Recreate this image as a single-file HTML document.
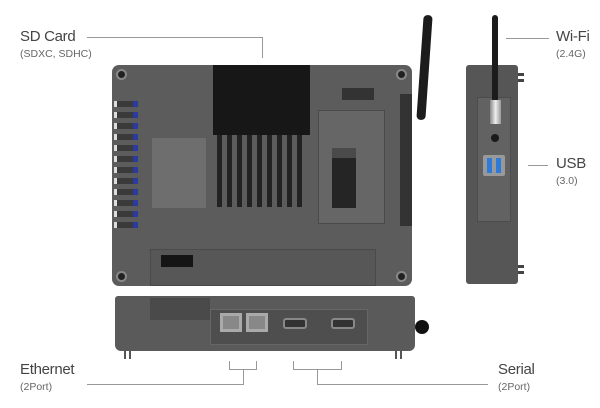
<!DOCTYPE html>
<html><head><style>
body{margin:0;width:600px;height:408px;background:#fff;position:relative;overflow:hidden;font-family:"Liberation Sans",sans-serif}
div{position:absolute;box-sizing:border-box}
.t{color:#444;font-size:15px;letter-spacing:-0.3px}
.s{color:#666;font-size:10.5px}
.ln{background:#999}
.scr{width:11px;height:11px;border-radius:50%;background:#222;border:2px solid #888}
.vent{height:6px;width:22px;background:#3a3a3a;border-left:3px solid #ddd}
.vent:after{content:"";position:absolute;right:-2px;top:0;width:5px;height:6px;background:#2a3aa0}
.fin{width:5px;height:72px;background:#222;top:0}
</style></head><body>
<!-- labels -->
<div class="t" style="left:20px;top:28px">SD Card</div>
<div class="s" style="left:20px;top:48px">(SDXC, SDHC)</div>
<div class="ln" style="left:87px;top:37px;width:176px;height:1px"></div>
<div class="ln" style="left:262px;top:37px;width:1px;height:21px"></div>

<div class="t" style="left:556px;top:28px">Wi-Fi</div>
<div class="s" style="left:556px;top:48px">(2.4G)</div>
<div class="ln" style="left:506px;top:38px;width:43px;height:1px"></div>
<div class="t" style="left:556px;top:155px">USB</div>
<div class="s" style="left:556px;top:175px">(3.0)</div>
<div class="ln" style="left:528px;top:165px;width:20px;height:1px"></div>

<div class="t" style="left:20px;top:361px">Ethernet</div>
<div class="s" style="left:20px;top:381px">(2Port)</div>
<div class="t" style="left:498px;top:361px">Serial</div>
<div class="s" style="left:498px;top:381px">(2Port)</div>
<div class="ln" style="left:87px;top:384px;width:157px;height:1px"></div>
<div class="ln" style="left:243px;top:369px;width:1px;height:16px"></div>
<div style="left:229px;top:361px;width:28px;height:9px;border:1px solid #999;border-top:none"></div>
<div class="ln" style="left:317px;top:369px;width:1px;height:16px"></div>
<div class="ln" style="left:317px;top:384px;width:171px;height:1px"></div>
<div style="left:293px;top:361px;width:49px;height:9px;border:1px solid #999;border-top:none"></div>

<!-- main back panel -->
<div style="left:420px;top:15px;width:9px;height:105px;background:#1c1c1c;border-radius:4px;transform:rotate(4deg)"></div>
<div style="left:112px;top:65px;width:300px;height:221px;background:#5c5c5c;border-radius:7px"></div>
<div style="left:213px;top:65px;width:97px;height:70px;background:#171717"></div>
<div style="left:213px;top:135px;width:97px;height:73px">
 <div class="fin" style="left:4px"></div><div class="fin" style="left:14px"></div><div class="fin" style="left:24px"></div><div class="fin" style="left:34px"></div><div class="fin" style="left:44px"></div><div class="fin" style="left:54px"></div><div class="fin" style="left:64px"></div><div class="fin" style="left:74px"></div><div class="fin" style="left:84px"></div>
</div>
<div style="left:152px;top:138px;width:54px;height:70px;background:#6e6e6e"></div>
<div style="left:318px;top:110px;width:67px;height:114px;background:#666;border:1px solid #4a4a4a"></div>
<div style="left:332px;top:148px;width:24px;height:60px;background:#252525;border-top:10px solid #4a4a4a"></div>
<div style="left:342px;top:88px;width:32px;height:12px;background:#333"></div>
<div style="left:400px;top:94px;width:12px;height:132px;background:#333"></div>
<div style="left:150px;top:249px;width:226px;height:37px;background:#575757;border:1px solid #4a4a4a"></div>
<div style="left:161px;top:255px;width:32px;height:12px;background:#151515"></div>
<div class="vent" style="left:114px;top:101px"></div><div class="vent" style="left:114px;top:112px"></div><div class="vent" style="left:114px;top:123px"></div><div class="vent" style="left:114px;top:134px"></div><div class="vent" style="left:114px;top:145px"></div><div class="vent" style="left:114px;top:156px"></div><div class="vent" style="left:114px;top:167px"></div><div class="vent" style="left:114px;top:178px"></div><div class="vent" style="left:114px;top:189px"></div><div class="vent" style="left:114px;top:200px"></div><div class="vent" style="left:114px;top:211px"></div><div class="vent" style="left:114px;top:222px"></div>
<div class="scr" style="left:116px;top:69px"></div><div class="scr" style="left:396px;top:69px"></div>
<div class="scr" style="left:116px;top:271px"></div><div class="scr" style="left:396px;top:271px"></div>

<!-- side view -->
<div style="left:466px;top:65px;width:52px;height:219px;background:#565656;border-radius:3px"></div>
<div style="left:518px;top:73px;width:6px;height:3px;background:#444"></div><div style="left:518px;top:79px;width:6px;height:3px;background:#444"></div>
<div style="left:518px;top:265px;width:6px;height:3px;background:#444"></div><div style="left:518px;top:271px;width:6px;height:3px;background:#444"></div>
<div style="left:477px;top:97px;width:34px;height:125px;background:#626262;border:1px solid #4c4c4c"></div>
<div style="left:492px;top:15px;width:6px;height:90px;background:#1c1c1c;border-radius:3px"></div>
<div style="left:490px;top:100px;width:11px;height:24px;background:linear-gradient(90deg,#888,#eee,#999)"></div>
<div style="left:491px;top:134px;width:8px;height:8px;border-radius:50%;background:#1a1a1a"></div>
<div style="left:483px;top:155px;width:22px;height:21px;background:#999;border-radius:2px"></div>
<div style="left:487px;top:158px;width:5px;height:15px;background:#2f7ad8"></div>
<div style="left:496px;top:158px;width:5px;height:15px;background:#2f7ad8"></div>

<!-- bottom view -->
<div style="left:115px;top:296px;width:300px;height:55px;background:#5a5a5a;border-radius:3px 3px 6px 6px"></div>
<div style="left:150px;top:298px;width:60px;height:22px;background:#4a4a4a"></div>
<div style="left:210px;top:309px;width:158px;height:36px;background:#4e4e4e;border:1px solid #666"></div>
<div style="left:220px;top:313px;width:22px;height:19px;background:#888;border:3px solid #aaa"></div>
<div style="left:246px;top:313px;width:22px;height:19px;background:#888;border:3px solid #aaa"></div>
<div style="left:283px;top:318px;width:24px;height:11px;background:#333;border:2px solid #888;border-radius:3px"></div>
<div style="left:331px;top:318px;width:24px;height:11px;background:#333;border:2px solid #888;border-radius:3px"></div>
<div style="left:415px;top:320px;width:14px;height:14px;border-radius:50%;background:#111"></div>
<div style="left:124px;top:351px;width:7px;height:8px;border-left:2px solid #555;border-right:2px solid #555"></div>
<div style="left:395px;top:351px;width:7px;height:8px;border-left:2px solid #555;border-right:2px solid #555"></div>
</body></html>
